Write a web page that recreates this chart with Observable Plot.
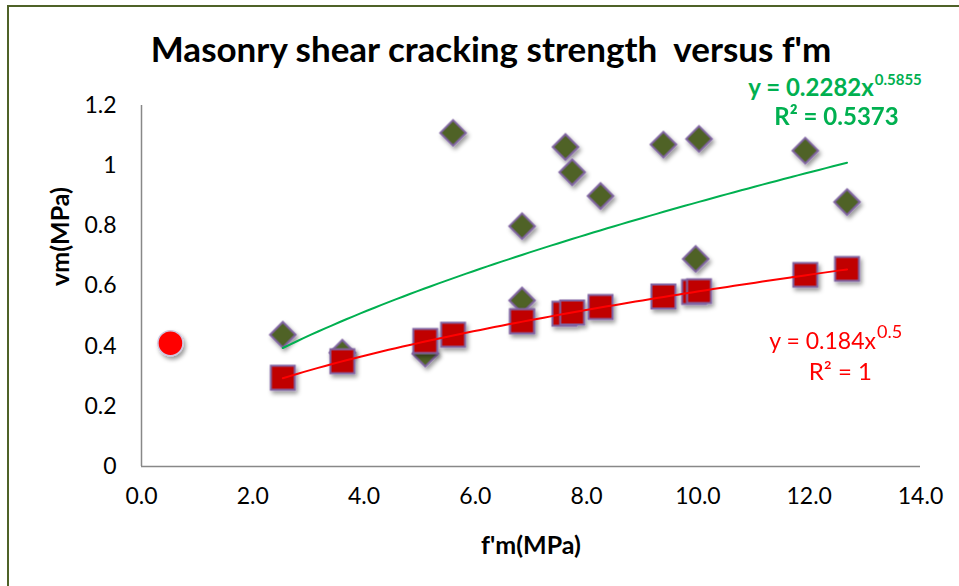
<!DOCTYPE html>
<html><head><meta charset="utf-8">
<script src="https://cdn.jsdelivr.net/npm/d3@7"></script>
<script src="https://cdn.jsdelivr.net/npm/@observablehq/plot@0.6"></script>
<style>
html,body{margin:0;padding:0;background:#fff;overflow:hidden;}
#wrap{position:relative;width:959px;height:586px;overflow:hidden;}
#border{position:absolute;left:7px;top:5px;width:1200px;height:900px;border:2px solid #4f6228;box-sizing:border-box;pointer-events:none;}
#chart{position:absolute;left:0;top:0;}
</style></head>
<body>
<div id="wrap"><div id="border"></div><div id="chart"></div></div>
<script>
// Series 1: diamonds
const fm1 = [2.54, 3.61, 5.10, 5.60, 6.84, 6.84, 7.62, 7.74, 8.25, 9.38, 9.96, 10.02, 11.93, 12.68];
const vm1 = [0.438, 0.378, 0.375, 1.109, 0.799, 0.552, 1.062, 0.978, 0.899, 1.070, 0.690, 1.089, 1.050, 0.879];
// Series 2: squares
const fm2 = [2.54, 3.61, 5.10, 5.60, 6.84, 6.84, 7.60, 7.74, 8.25, 9.38, 9.93, 10.02, 11.93, 12.68];
const vm2 = [0.295, 0.350, 0.417, 0.438, 0.483, 0.483, 0.508, 0.512, 0.530, 0.565, 0.580, 0.583, 0.637, 0.657];
// Series 3: single circle
const fm3 = [0.52];
const vm3 = [0.41];
// Power trendlines y = a x^b (as labelled)
const fitA = [0.2282, 0.184];
const fitB = [0.5855, 0.5];
const fitR2 = ["0.5373", "1"];
const fitRange = [2.54, 12.68];
const xTicks = [0, 2, 4, 6, 8, 10, 12, 14];
const yTicks = [0, 0.2, 0.4, 0.6, 0.8, 1, 1.2];
const titleText = "Masonry shear cracking strength  versus f'm";
const xLabel = "f'm(MPa)";
const yLabel = "vm(MPa)";

const s1 = fm1.map((x, i) => ({x, y: vm1[i]}));
const s2 = fm2.map((x, i) => ({x, y: vm2[i]}));
const s3 = fm3.map((x, i) => ({x, y: vm3[i]}));
const curve = (a, b) => d3.range(0, 81).map(i => {
  const x = fitRange[0] + (fitRange[1] - fitRange[0]) * i / 80;
  return {x, y: a * Math.pow(x, b)};
});
const green = "#00b050", red = "#ff0000";

const plot = Plot.plot({
  width: 959, height: 586,
  marginLeft: 141, marginRight: 39, marginTop: 105, marginBottom: 120,
  style: {fontFamily: "Lato, 'Open Sans', sans-serif", fontSize: "23px", color: "#000", background: "transparent", overflow: "visible"},
  x: {domain: [0, 14]},
  y: {domain: [0, 1.2]},
  marks: [
    Plot.axisX({ticks: xTicks, tickSize: 0, tickPadding: 21, tickFormat: d3.format(".1f"), label: null, fontSize: 23}),
    Plot.axisY({ticks: yTicks, tickSize: 0, tickPadding: 25, tickFormat: d => String(d), label: null, fontSize: 23}),
    Plot.ruleY([0], {stroke: "#888", strokeWidth: 1.5}),
    Plot.ruleX([0], {stroke: "#888", strokeWidth: 1.5}),
    Plot.dot(s1, {x: "x", y: "y", symbol: "diamond2", r: 11.5, fill: "#4f6228", stroke: "#8064a2", strokeWidth: 2}),
    Plot.dot(s2, {x: "x", y: "y", symbol: "square", r: 13.5, fill: "#c00000", stroke: "#8064a2", strokeWidth: 2}),
    Plot.dot(s3, {x: "x", y: "y", symbol: "circle", r: 12.5, fill: "#ff0000", stroke: "#cfc6e0", strokeWidth: 1.5}),
    Plot.line(curve(fitA[0], fitB[0]), {x: "x", y: "y", stroke: green, strokeWidth: 2}),
    Plot.line(curve(fitA[1], fitB[1]), {x: "x", y: "y", stroke: red, strokeWidth: 2}),
    // title & axis titles
    Plot.text([titleText], {frameAnchor: "top", text: d => d, dx: -40, dy: -55, lineAnchor: "middle", fontSize: 35, fontWeight: "bold"}),
    Plot.text([xLabel], {frameAnchor: "bottom", text: d => d, dx: 0, dy: 79, lineAnchor: "middle", fontSize: 25, fontWeight: "bold"}),
    Plot.text([yLabel], {frameAnchor: "left", text: d => d, dx: -81, dy: 0, rotate: -90, lineAnchor: "middle", fontSize: 25, fontWeight: "bold"}),
    // green equation
    Plot.text(["y = " + fitA[0] + "x"], {x: () => 13.16, y: () => 1.233, text: d => d, textAnchor: "end", lineAnchor: "bottom", fill: green, fontWeight: "bold", fontSize: 24}),
    Plot.text([String(fitB[0])], {x: () => 13.16, y: () => 1.233, text: d => d, textAnchor: "start", lineAnchor: "bottom", dx: 1, dy: -11, fill: green, fontWeight: "bold", fontSize: 15}),
    Plot.text(["R\u00b2 = " + fitR2[0]], {x: () => 12.49, y: () => 1.134, text: d => d, textAnchor: "middle", lineAnchor: "bottom", fill: green, fontWeight: "bold", fontSize: 24}),
    // red equation
    Plot.text(["y = " + fitA[1] + "x"], {x: () => 13.2, y: () => 0.392, text: d => d, textAnchor: "end", lineAnchor: "bottom", fill: red, fontSize: 23}),
    Plot.text([String(fitB[1])], {x: () => 13.2, y: () => 0.392, text: d => d, textAnchor: "start", lineAnchor: "bottom", dx: 1, dy: -11, fill: red, fontSize: 18}),
    Plot.text(["R\u00b2 = " + fitR2[1]], {x: () => 12.56, y: () => 0.286, text: d => d, textAnchor: "middle", lineAnchor: "bottom", fill: red, fontSize: 24})
  ]
});

// drop shadow for markers
const ns = "http://www.w3.org/2000/svg";
const defs = document.createElementNS(ns, "defs");
defs.innerHTML = '<filter id="mshadow" x="-50%" y="-50%" width="200%" height="200%"><feDropShadow dx="2" dy="3" stdDeviation="2" flood-color="#000" flood-opacity="0.4"/></filter>';
plot.insertBefore(defs, plot.firstChild);
plot.querySelectorAll('g[aria-label="dot"]').forEach(g => g.setAttribute("filter", "url(#mshadow)"));
document.getElementById("chart").appendChild(plot);
</script>
</body></html>
